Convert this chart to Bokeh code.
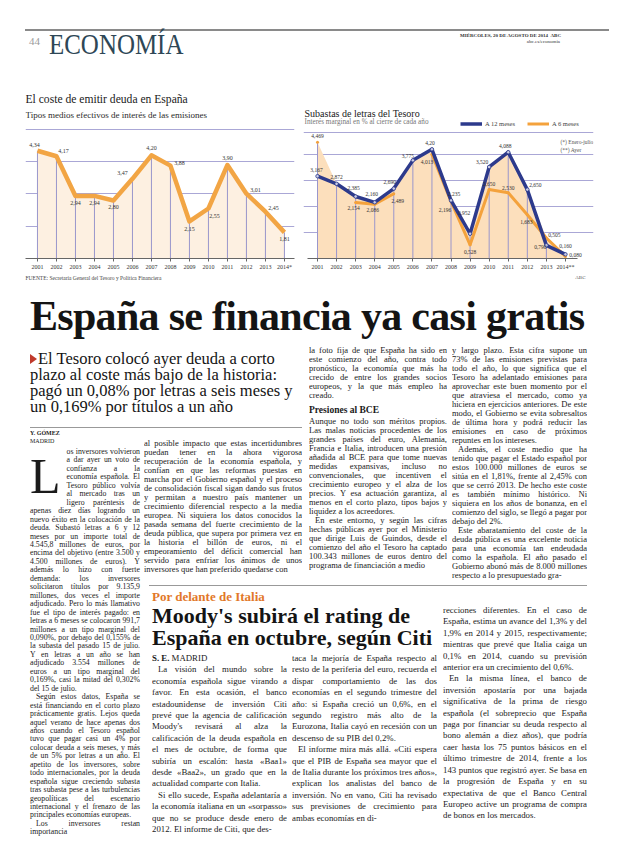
import numpy as np
from bokeh.plotting import figure
from bokeh.models import Range1d, FixedTicker, Label, Legend, LegendItem, Div, ColumnDataSource, Title
from bokeh.layouts import column, row
from bokeh.embed import file_html
from bokeh.resources import INLINE
from bokeh.core.properties import value

# ---------------- data ----------------
years = list(range(2001, 2015))
left_tick_labels = [str(y) for y in years[:-1]] + ["2014*"]
right_tick_labels = [str(y) for y in years[:-1]] + ["2014**"]

coste_medio = [4.34, 4.17, 2.94, 2.94, 2.80, 3.47, 4.20, 3.88, 2.15, 2.55, 3.90, 3.01, 2.45, 1.81]
coste_medio_text = ["4,34", "4,17", "2,94", "2,94", "2,80", "3,47", "4,20", "3,88",
                    "2,15", "2,55", "3,90", "3,01", "2,45", "1,81"]

letras_12m = [3.167, 2.872, 2.385, 2.160, 2.690, 3.775, 4.20, 2.235, 0.952, 3.520, 4.088, 2.650, 0.505, 0.160]
letras_12m_text = ["3,167", "2,872", "2,385", "2,160", "2,690", "3,775", "4,20", "2,235",
                   "0,952", "3,520", "4,088", "2,650", "0,505", "0,160"]

nan = float("nan")
letras_6m = [4.469, nan, 2.154, 2.086, 2.489, nan, 4.013, 2.196, 0.528, 2.650, 2.530, 1.683, 0.790, 0.080]
letras_6m_text = ["4,469", "", "2,154", "2,086", "2,489", "", "4,013", "2,196",
                  "0,528", "2,650", "2,530", "1,683", "0,790", "0,080"]

# label placement (screen px offsets, style only)
left_off = [(-3, -6), (7, -5), (0, 7), (0, 7), (0, 7), (-10, -6), (0, -7), (9, -3),
            (0, 8), (6, 7), (0, -7), (9, -4), (8, -4), (0, 7)]
blue_off = [(-1, -6), (0, -7), (-2, -8), (-3, -8), (-4, -7), (-5, -4), (-2, -6), (3, -6),
            (-6, -21), (-7, -5), (-3, -6), (8, -5), (8, -10), (0, -8)]
orange_off = [(0, -6), (0, 0), (-2, 6), (-2, 6), (4, 7), (0, 0), (-5, 8), (-6, 9),
              (0, 7), (0, -6), (0, -5), (-1, 7), (-6, 9), (10, -1)]

SERIF = "Liberation Serif"
LAV = "#aaa7d6"


def style_axis(f, ticks, labels, bounds):
    f.outline_line_color = None
    f.yaxis.visible = False
    f.xgrid.visible = False
    f.xaxis.ticker = FixedTicker(ticks=ticks)
    f.xaxis.major_label_overrides = {y: t for y, t in zip(ticks, labels)}
    f.xaxis.bounds = bounds
    f.xaxis.axis_line_color = "#666"
    f.xaxis.major_tick_line_color = "#666"
    f.xaxis.major_tick_out = 3
    f.xaxis.major_tick_in = 0
    f.xaxis.minor_tick_line_color = None
    f.xaxis.major_label_standoff = 2
    f.xaxis.major_label_text_font = SERIF
    f.xaxis.major_label_text_font_size = "6px"
    f.xaxis.major_label_text_color = "#333"


# ---------------- left chart ----------------
L_BASE, L_TOP, L_FRAME_TOP = 1.0, 5.0, 6.147
left = figure(width=298, height=190, x_range=Range1d(2000.37, 2014.53),
              y_range=Range1d(L_BASE, L_FRAME_TOP),
              output_backend="svg", toolbar_location=None,
              min_border_left=25, min_border_right=4, min_border_top=0, min_border_bottom=24)
style_axis(left, years, left_tick_labels, (2000.37, 2014.53))
left.ygrid.ticker = FixedTicker(ticks=[2, 3, 4, L_TOP])
left.ygrid.grid_line_color = LAV

src_l = ColumnDataSource(dict(x=years, y=coste_medio, t=coste_medio_text,
                              dx=[o[0] for o in left_off], dy=[o[1] for o in left_off],
                              base=[L_BASE] * len(years)))
left.varea(x="x", y1="base", y2="y", source=src_l, fill_color="#fdf0e1")
left.segment(x0="x", y0="base", x1="x", y1="y", source=src_l, line_color="#9996cb", line_width=1)
left.line(x="x", y="y", source=src_l, line_color="#f2a544", line_width=4.5, line_join="round")
left.text(x="x", y="y", text="t", x_offset="dx", y_offset="dy", source=src_l,
          text_font=value(SERIF), text_font_size="6px", text_color="#333",
          text_align="center", text_baseline="middle")

left.add_layout(Label(x=0, y=153, x_units="screen", y_units="screen",
                      text="El coste de emitir deuda en España", text_font=SERIF,
                      text_font_size="11.6px", text_color="#1a1a1a"))
left.add_layout(Label(x=0, y=139, x_units="screen", y_units="screen",
                      text="Tipos medios efectivos de interés de las emisiones", text_font=SERIF,
                      text_font_size="9px", text_color="#2a2a2a"))
left.add_layout(Title(text="FUENTE: Secretaría General del Tesoro y Política Financiera",
                      align="left", text_font=SERIF, text_font_size="5.5px", text_color="#444",
                      text_font_style="normal", standoff=0, offset=0), "below")

# ---------------- right chart ----------------
R_TOP, R_FRAME_TOP = 4.85, 6.385
right = figure(width=306, height=190, x_range=Range1d(2000.266, 2015.47), y_range=Range1d(0, R_FRAME_TOP),
               output_backend="svg", toolbar_location=None,
               min_border_left=5, min_border_right=11, min_border_top=0, min_border_bottom=24)
style_axis(right, years, right_tick_labels, (2000.47, 2014.63))
right.ygrid.ticker = FixedTicker(ticks=[1, 2, 3, 4, R_TOP])
right.ygrid.grid_line_color = LAV

env = np.fmax(np.array(letras_12m), np.array(letras_6m))
src_r = ColumnDataSource(dict(x=years, b=letras_12m, o=letras_6m, env=env, zero=[0] * len(years),
                              bt=letras_12m_text, ot=letras_6m_text,
                              bdx=[o[0] for o in blue_off], bdy=[o[1] for o in blue_off],
                              odx=[o[0] for o in orange_off], ody=[o[1] for o in orange_off]))
right.varea(x="x", y1="zero", y2="env", source=src_r, fill_color="#fcdfbc")
right.segment(x0="x", y0="zero", x1="x", y1="env", source=src_r, line_color="#9a96cc", line_width=1)
r6 = right.line(x="x", y="o", source=src_r, line_color="#f4a23c", line_width=3, line_join="round")
right.scatter(x="x", y="o", source=src_r, size=3, fill_color="#f4a23c", line_color=None)
r12 = right.line(x="x", y="b", source=src_r, line_color="#2d3a8c", line_width=3.5, line_join="round")
right.scatter(x="x", y="b", source=src_r, size=3.5, fill_color="#c9cce6", line_color="#2d3a8c", line_width=0.8)
right.text(x="x", y="b", text="bt", x_offset="bdx", y_offset="bdy", source=src_r,
           text_font=value(SERIF), text_font_size="5.5px", text_color="#333",
           text_align="center", text_baseline="middle")
right.text(x="x", y="o", text="ot", x_offset="odx", y_offset="ody", source=src_r,
           text_font=value(SERIF), text_font_size="5.5px", text_color="#333",
           text_align="center", text_baseline="middle")

legend = Legend(items=[LegendItem(label="A 12 meses", renderers=[r12]),
                       LegendItem(label="A 6 meses", renderers=[r6])],
                orientation="horizontal", location=(157, 131), glyph_width=22, glyph_height=7,
                label_text_font=SERIF, label_text_font_size="6.5px", label_text_color="#444",
                label_standoff=3, label_height=7, spacing=12, padding=0, margin=0,
                border_line_color=None, background_fill_alpha=0)
right.add_layout(legend)

right.add_layout(Label(x=1, y=140, x_units="screen", y_units="screen",
                       text="Subastas de letras del Tesoro", text_font=SERIF,
                       text_font_size="10px", text_color="#1a1a1a"))
right.add_layout(Label(x=1, y=133, x_units="screen", y_units="screen",
                       text="Interés marginal en % al cierre de cada año", text_font=SERIF,
                       text_font_size="7.2px", text_color="#777"))
right.add_layout(Label(x=257, y=114, x_units="screen", y_units="screen",
                       text="(*) Enero-julio", text_font=SERIF, text_font_size="5.5px", text_color="#555"))
right.add_layout(Label(x=257, y=106, x_units="screen", y_units="screen",
                       text="(**) Ayer", text_font=SERIF, text_font_size="5.5px", text_color="#555"))
right.add_layout(Title(text="ABC", align="right", text_font=SERIF, text_font_size="5px",
                       text_color="#555", text_font_style="normal", standoff=0, offset=8), "below")

# ---------------- page texts ----------------
header_html = """
<div style="position:relative;width:604px;height:82px;overflow:hidden;font-family:'Liberation Serif',serif;">
 <div style="position:absolute;left:20px;top:24px;width:584px;height:1.5px;background:#8a8a8a;"></div>
 <div style="position:absolute;left:24px;top:31px;font-size:11px;line-height:1;color:#9a9a9a;">44</div>
 <div style="position:absolute;left:44px;top:25px;font-size:29px;line-height:1;color:#2e4756;transform:scaleX(0.86);transform-origin:left;white-space:nowrap;">ECONOMÍA</div>
 <div style="position:absolute;left:455px;top:28px;width:100px;text-align:right;font-size:5px;line-height:5.5px;color:#333;font-weight:bold;white-space:nowrap;">MIÉRCOLES, 20 DE AGOSTO DE 2014 &nbsp;ABC<br><span style="font-weight:normal">abc.es/economia</span></div>
</div>
"""

col1 = """<span style="float:left;display:block;font-size:50px;line-height:normal;height:59px;margin:-1px 6px 0 0;color:#1a1a1a;">L</span>os inversores volvieron a dar ayer un voto de confianza a la economía española. El Tesoro público volvía al mercado tras un ligero paréntesis de apenas diez días logrando un nuevo éxito en la colocación de la deuda. Subastó letras a 6 y 12 meses por un importe total de 4.545,8 millones de euros, por encima del objetivo (entre 3.500 y 4.500 millones de euros). Y además lo hizo con fuerte demanda: los inversores solicitaron títulos por 9.135,9 millones, dos veces el importe adjudicado. Pero lo más llamativo fue el tipo de interés pagado: en letras a 6 meses se colocaron 991,7 millones a un tipo marginal del 0,090%, por debajo del 0,155% de la subasta del pasado 15 de julio. Y en letras a un año se han adjudicado 3.554 millones de euros a un tipo marginal del 0,169%, casi la mitad del 0,302% del 15 de julio.
<p>Según estos datos, España se está financiando en el corto plazo prácticamente gratis. Lejos queda aquel verano de hace apenas dos años cuando el Tesoro español tuvo que pagar casi un 4% por colocar deuda a seis meses, y más de un 5% por letras a un año. El apetito de los inversores, sobre todo internacionales, por la deuda española sigue creciendo subasta tras subasta pese a las turbulencias geopolíticas del escenario internacional y el frenazo de las principales economías europeas.</p>
<p>Los inversores restan importancia</p>"""

col2 = """al posible impacto que estas incertidumbres puedan tener en la ahora vigorosa recuperación de la economía española, y confían en que las reformas puestas en marcha por el Gobierno español y el proceso de consolidación fiscal sigan dando sus frutos y permitan a nuestro país mantener un crecimiento diferencial respecto a la media europea. Ni siquiera los datos conocidos la pasada semana del fuerte crecimiento de la deuda pública, que supera por primera vez en la historia el billón de euros, ni el empeoramiento del déficit comercial han servido para enfriar los ánimos de unos inversores que han preferido quedarse con"""

col3 = """la foto fija de que España ha sido en este comienzo del año, contra todo pronóstico, la economía que más ha crecido de entre los grandes socios europeos, y la que más empleo ha creado.
<div style="font-weight:bold;font-size:9.5px;line-height:11px;margin:5px 0 1px 0;text-align:left;">Presiones al BCE</div>
Aunque no todo son méritos propios. Las malas noticias procedentes de los grandes países del euro, Alemania, Francia e Italia, introducen una presión añadida al BCE para que tome nuevas medidas expansivas, incluso no convencionales, que incentiven el crecimiento europeo y el alza de los precios. Y esa actuación garantiza, al menos en el corto plazo, tipos bajos y liquidez a los acreedores.
<p>En este entorno, y según las cifras hechas públicas ayer por el Ministerio que dirige Luis de Guindos, desde el comienzo del año el Tesoro ha captado 100.343 millones de euros dentro del programa de financiación a medio</p>"""

col4 = """y largo plazo. Esta cifra supone un 73% de las emisiones previstas para todo el año, lo que significa que el Tesoro ha adelantado emisiones para aprovechar este buen momento por el que atraviesa el mercado, como ya hiciera en ejercicios anteriores. De este modo, el Gobierno se evita sobresaltos de última hora y podrá reducir las emisiones en caso de próximos repuntes en los intereses.
<p>Además, el coste medio que ha tenido que pagar el Estado español por estos 100.000 millones de euros se sitúa en el 1,81%, frente al 2,45% con que se cerró 2013. De hecho este coste es también mínimo histórico. Ni siquiera en los años de bonanza, en el comienzo del siglo, se llegó a pagar por debajo del 2%.</p>
<p>Este abaratamiento del coste de la deuda pública es una excelente noticia para una economía tan endeudada como la española. El año pasado el Gobierno abonó más de 8.000 millones respecto a lo presupuestado gra-</p>"""

cola = """<b>S. E.</b> MADRID
<p>La visión del mundo sobre la economía española sigue virando a favor. En esta ocasión, el banco estadounidense de inversión Citi prevé que la agencia de calificación Moody's revisará al alza la calificación de la deuda española en el mes de octubre, de forma que subiría un escalón: hasta «Baa1» desde «Baa2», un grado que en la actualidad comparte con Italia.</p>
<p>Si ello sucede, España adelantaría a la economía italiana en un «sorpasso» que no se produce desde enero de 2012. El informe de Citi, que des-</p>"""

colb = """taca la mejoría de España respecto al resto de la periferia del euro, recuerda el dispar comportamiento de las dos economías en el segundo trimestre del año: si España creció un 0,6%, en el segundo registro más alto de la Eurozona, Italia cayó en recesión con un descenso de su PIB del 0,2%.
<p>El informe mira más allá. «Citi espera que el PIB de España sea mayor que el de Italia durante los próximos tres años», explican los analistas del banco de inversión. No en vano, Citi ha revisado sus previsiones de crecimiento para ambas economías en di-</p>"""

colc = """recciones diferentes. En el caso de España, estima un avance del 1,3% y del 1,9% en 2014 y 2015, respectivamente; mientras que prevé que Italia caiga un 0,1% en 2014, cuando su previsión anterior era un crecimiento del 0,6%.
<p>En la misma línea, el banco de inversión apostaría por una bajada significativa de la prima de riesgo española (el sobreprecio que España paga por financiar su deuda respecto al bono alemán a diez años), que podría caer hasta los 75 puntos básicos en el último trimestre de 2014, frente a los 143 puntos que registró ayer. Se basa en la progresión de España y en su expectativa de que el Banco Central Europeo active un programa de compra de bonos en los mercados.</p>"""


def col(left_px, top_px, width_px, height_px, html, extra=""):
    return (f'<div class="c" style="left:{left_px}px;top:{top_px}px;width:{width_px}px;height:{height_px}px;{extra}">'
            f'{html}</div>')


body_html = f"""
<div style="position:relative;width:604px;height:556px;overflow:hidden;font-family:'Liberation Serif',serif;color:#1a1a1a;">
<style>
 .c {{position:absolute;font-size:8.5px;line-height:9px;text-align:justify;overflow:hidden;color:#1a1a1a;}}
 .c p {{margin:0;text-indent:6px;}}
 .c2 {{font-size:8.8px;line-height:11.4px;}}
</style>
 <div style="position:absolute;left:25px;top:8px;font-size:42px;line-height:1;font-weight:bold;letter-spacing:-0.7px;white-space:nowrap;color:#141414;">España se financia ya casi gratis</div>
 <div style="position:absolute;left:25px;top:64px;width:278px;font-size:16.5px;line-height:16px;color:#141414;"><span style="display:inline-block;width:0;height:0;border-left:7px solid #c0392b;border-top:5px solid transparent;border-bottom:5px solid transparent;margin-right:1px;"></span>El Tesoro colocó ayer deuda a corto plazo al coste más bajo de la historia: pagó un 0,08% por letras a seis meses y un 0,169% por títulos a un año</div>
 <div style="position:absolute;left:25px;top:140px;width:272px;height:1px;background:#999;"></div>
 <div style="position:absolute;left:25px;top:143px;font-size:6px;line-height:7.5px;color:#222;"><b>Y. GÓMEZ</b><br>MADRID</div>
 {col(25, 161, 110, 393, col1, "font-size:7.8px;line-height:8.45px;overflow:visible;")}
 {col(139, 152, 158, 146, col2)}
 {col(304, 59, 138, 240, col3)}
 {col(447, 59, 135, 240, col4)}
 <div style="position:absolute;left:144px;top:298px;width:438px;height:1px;background:#999;"></div>
 <div style="position:absolute;left:147px;top:303px;font-size:13px;line-height:1;font-weight:bold;color:#e2782a;">Por delante de Italia</div>
 <div style="position:absolute;left:147px;top:318px;width:300px;font-size:22px;line-height:22px;font-weight:bold;color:#141414;">Moody's subirá el rating de España en octubre, según Citi</div>
 <div class="c c2" style="left:147px;top:366px;width:135px;height:190px;">{cola}</div>
 <div class="c c2" style="left:287px;top:366px;width:145px;height:190px;">{colb}</div>
 <div class="c c2" style="left:438px;top:318px;width:144px;height:238px;">{colc}</div>
</div>
"""

header = Div(text=header_html, width=604, height=82)
body = Div(text=body_html, width=604, height=556)

page = column(header, row(left, right), body)

open("out.html", "w").write(file_html(page, INLINE))
